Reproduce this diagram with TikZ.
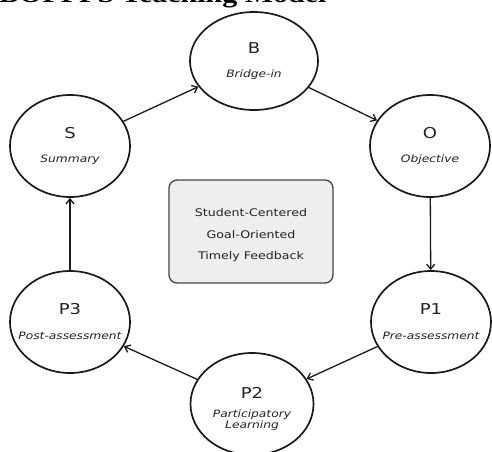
\documentclass[tikz,border=0pt]{standalone}
\usepackage{fontspec}
\setmainfont{DejaVu Sans}
\newfontfamily\lblfont[FakeStretch=1.2]{DejaVu Sans}
\newfontfamily\titlefont[FakeStretch=1.2]{Liberation Serif}
\usetikzlibrary{shapes.geometric,arrows.meta}
\definecolor{ink}{HTML}{1A1A1A}
\definecolor{boxfill}{HTML}{EEEEEE}
\definecolor{boxline}{HTML}{444444}
\definecolor{txt}{HTML}{222222}
\tikzset{
  phase/.style={ellipse, draw=ink, line width=1.7pt, inner sep=0pt},
  letter/.style={inner sep=0pt, text=txt, font=\lblfont\fontsize{15}{16}\selectfont},
  sublbl/.style={inner sep=0pt, text=txt, align=center, font=\lblfont\itshape\fontsize{10.2}{11.5}\selectfont},
  conn/.style={-{Straight Barb[length=5pt,width=8pt]}, line width=1.3pt, draw=ink},
  corebox/.style={draw=boxline, fill=boxfill, rounded corners=8pt, line width=1.3pt,
    minimum width=164pt, minimum height=103pt, inner sep=0pt},
  coretxt/.style={inner sep=0pt, text=txt, font=\lblfont\fontsize{10.5}{12}\selectfont}
}
\begin{document}
\begin{tikzpicture}[x=1pt,y=-1pt]
\useasboundingbox (0,0) rectangle (492,451);
\clip (0,0) rectangle (492,451);
\node[anchor=base west, inner sep=0pt] (title) at (-1,2) {\titlefont\bfseries\fontsize{25}{25}\selectfont BOPPPS Teaching Model};

\node[phase, minimum width=128pt, minimum height=98pt] (B) at (254,61) {};
\node[phase, minimum width=120pt, minimum height=102pt] (O) at (430,146) {};
\node[phase, minimum width=120pt, minimum height=102pt] (S) at (70,146) {};
\node[phase, minimum width=120pt, minimum height=102pt] (P1) at (431,322) {};
\node[phase, minimum width=120pt, minimum height=102pt] (P3) at (70,322) {};
\node[phase, minimum width=123pt, minimum height=102pt] (P2) at (252,404) {};

\node[letter] (Bl) at (254,48) {B};
\node[sublbl] (Bs) at (254,75) {Bridge-in};
\node[letter] (Ol) at (430,133) {O};
\node[sublbl] (Os) at (430,160) {Objective};
\node[letter] (Sl) at (70,133) {S};
\node[sublbl] (Ss) at (70,160) {Summary};
\node[letter] (P1l) at (431,309) {P1};
\node[sublbl] (P1s) at (431,336) {Pre-assessment};
\node[letter] (P3l) at (70,309) {P3};
\node[sublbl] (P3s) at (70,336) {Post-assessment};
\node[letter] (P2l) at (252,393) {P2};
\node[sublbl] (P2s) at (252,420) {Participatory\\[-1pt]Learning};

\node[corebox] (core) at (251,231.5) {};
\node[coretxt] (c1) at (251,213) {Student-Centered};
\node[coretxt] (c2) at (251,235) {Goal-Oriented};
\node[coretxt] (c3) at (251,257) {Timely Feedback};

\draw[conn] (S) -- (B);
\draw[conn] (B) -- (O);
\draw[conn] (O) -- (P1);
\draw[conn] (P1) -- (P2);
\draw[conn] (P2) -- (P3);
\draw[conn] (P3) -- (S);
\end{tikzpicture}
\end{document}
